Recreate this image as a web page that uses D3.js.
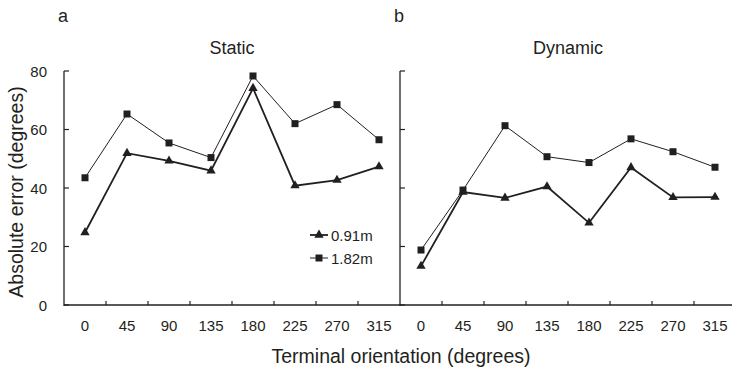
<!DOCTYPE html>
<html>
<head>
<meta charset="utf-8">
<script src="https://cdn.jsdelivr.net/npm/d3@7"></script>
<style>
  body { margin: 0; background: #fff; }
  text { font-family: "Liberation Sans", Arial, sans-serif; fill: #231f20; }
</style>
</head>
<body>
<div id="chart"></div>
<script>
const orientations = ["0", "45", "90", "135", "180", "225", "270", "315"];
const yTicks = [0, 20, 40, 60, 80];

const staticNear = [24.8, 51.9, 49.3, 45.9, 74.1, 40.8, 42.7, 47.3];   // 0.91m
const staticFar  = [43.5, 65.3, 55.4, 50.4, 78.3, 62.0, 68.5, 56.5];   // 1.82m
const dynamicNear = [13.3, 38.6, 36.6, 40.5, 28.1, 47.0, 36.8, 36.9];
const dynamicFar  = [18.8, 39.3, 61.3, 50.7, 48.7, 56.8, 52.4, 47.1];

const panels = [
  { letter: "a", title: "Static", near: staticNear, far: staticFar, x0: 64, labels: true },
  { letter: "b", title: "Dynamic", near: dynamicNear, far: dynamicFar, x0: 400, labels: false }
];

const W = 732, H = 367;
const plotTop = 71, plotBottom = 305, bandW = 42;
const ink = "#231f20";

const svg = d3.select("#chart").append("svg")
    .attr("width", W).attr("height", H);

const y = d3.scaleLinear().domain([0, 80]).range([plotBottom, plotTop]);

panels.forEach(p => {
  const x = d3.scaleBand()
      .domain(orientations)
      .range([p.x0, p.x0 + bandW * orientations.length])
      .padding(0);

  const g = svg.append("g");

  // x axis: line with inward ticks at band boundaries
  g.append("line")
      .attr("x1", p.x0).attr("x2", p.x0 + bandW * 8)
      .attr("y1", plotBottom).attr("y2", plotBottom)
      .attr("stroke", ink).attr("stroke-width", 1.3);
  g.selectAll(".xtick")
    .data(orientations.slice(1))
    .join("line")
      .attr("x1", d => x(d)).attr("x2", d => x(d))
      .attr("y1", plotBottom).attr("y2", plotBottom - 4)
      .attr("stroke", ink).attr("stroke-width", 1.2);
  g.selectAll(".xlab")
    .data(orientations)
    .join("text")
      .attr("x", d => x(d) + x.bandwidth() / 2)
      .attr("y", plotBottom + 26)
      .attr("text-anchor", "middle")
      .style("font-size", "15px")
      .text(d => d);

  // y axis
  g.append("line")
      .attr("x1", p.x0).attr("x2", p.x0)
      .attr("y1", y(80)).attr("y2", plotBottom + 1)
      .attr("stroke", ink).attr("stroke-width", 1.3);
  g.selectAll(".ytick")
    .data(yTicks)
    .join("line")
      .attr("x1", p.x0).attr("x2", p.x0 + 5)
      .attr("y1", d => y(d)).attr("y2", d => y(d))
      .attr("stroke", ink).attr("stroke-width", 1.2);
  if (p.labels) {
    g.selectAll(".ylab")
      .data(yTicks)
      .join("text")
        .attr("x", p.x0 - 17)
        .attr("y", d => y(d) + 5.5)
        .attr("text-anchor", "end")
        .style("font-size", "15px")
        .text(d => d);
  }

  g.append("text")
      .attr("x", p.x0 - 6).attr("y", 22)
      .style("font-size", "18px")
      .text(p.letter);
  g.append("text")
      .attr("x", p.x0 + bandW * 4).attr("y", 54)
      .attr("text-anchor", "middle")
      .style("font-size", "18px")
      .text(p.title);

  const cx = i => x(orientations[i]) + x.bandwidth() / 2;
  const line = d3.line().x((d, i) => cx(i)).y(d => y(d));

  g.append("path").datum(p.far)
      .attr("d", line).attr("fill", "none")
      .attr("stroke", ink).attr("stroke-width", 1);
  g.append("path").datum(p.near)
      .attr("d", line).attr("fill", "none")
      .attr("stroke", ink).attr("stroke-width", 1.8);

  g.selectAll(".sq").data(p.far).join("rect")
      .attr("x", (d, i) => cx(i) - 3.5).attr("y", d => y(d) - 3.5)
      .attr("width", 7).attr("height", 7).attr("fill", ink);
  g.selectAll(".tri").data(p.near).join("path")
      .attr("transform", (d, i) => `translate(${cx(i)},${y(d)})`)
      .attr("d", d3.symbol(d3.symbolTriangle, 38))
      .attr("fill", ink);
});

// legend
const legend = svg.append("g");
const legendItems = [
  { label: "0.91m", sym: "tri", w: 1.8 },
  { label: "1.82m", sym: "sq", w: 1 }
];
legendItems.forEach((it, i) => {
  const ly = 235 + i * 23;
  legend.append("line")
      .attr("x1", 310).attr("x2", 328).attr("y1", ly).attr("y2", ly)
      .attr("stroke", ink).attr("stroke-width", it.w);
  if (it.sym === "tri") {
    legend.append("path")
        .attr("transform", `translate(319,${ly})`)
        .attr("d", d3.symbol(d3.symbolTriangle, 38)).attr("fill", ink);
  } else {
    legend.append("rect")
        .attr("x", 315.5).attr("y", ly - 3.5).attr("width", 7).attr("height", 7)
        .attr("fill", ink);
  }
  legend.append("text")
      .attr("x", 331).attr("y", ly + 5.5)
      .style("font-size", "15px")
      .text(it.label);
});

// axis titles
svg.append("text")
    .attr("x", 401).attr("y", 363)
    .attr("text-anchor", "middle")
    .style("font-size", "19.5px")
    .text("Terminal orientation (degrees)");
svg.append("text")
    .attr("transform", "translate(23,192) rotate(-90)")
    .attr("text-anchor", "middle")
    .style("font-size", "19.5px")
    .text("Absolute error (degrees)");
</script>
</body>
</html>
